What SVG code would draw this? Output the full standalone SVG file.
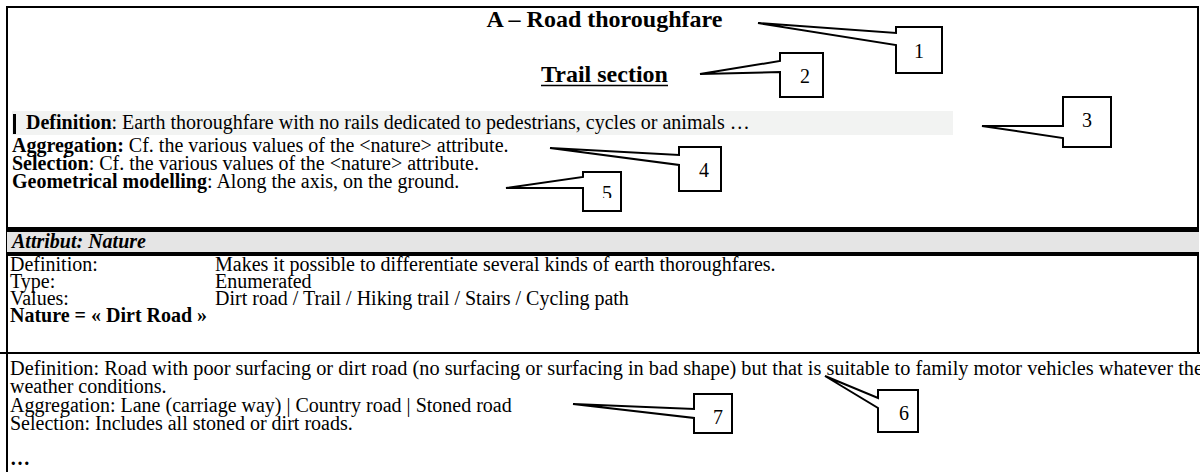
<svg xmlns="http://www.w3.org/2000/svg" width="1200" height="472" viewBox="0 0 1200 472">
<style>
text{font-family:"Liberation Serif","Times New Roman",serif;font-size:20px;fill:#000}
.b{font-weight:bold}
.h{font-weight:bold;font-size:24px}
.bi{font-weight:bold;font-style:italic}
.call{fill:#fff;stroke:#000;stroke-width:2;stroke-linejoin:miter}
.frame{stroke:#000;stroke-width:2;fill:none}
</style>
<defs>
<clipPath id="clip5"><rect x="584" y="173" width="36" height="25"/></clipPath>
</defs>
<rect width="1200" height="472" fill="#fff"/>
<g id="frame">
<line class="frame" x1="6" y1="7" x2="1199" y2="7"/>
<line class="frame" x1="7" y1="6" x2="7" y2="472"/>
<line class="frame" x1="1198" y1="6" x2="1198" y2="354"/>
<line class="frame" x1="0" y1="353" x2="1200" y2="353"/>
</g>
<g id="header">
<text class="h" x="604.5" y="27" text-anchor="middle">A – Road thoroughfare</text>
<text class="h" x="604.5" y="82" text-anchor="middle">Trail section</text>
<line x1="541" y1="85.5" x2="668" y2="85.5" stroke="#000" stroke-width="1.6"/>
</g>
<g id="description">
<rect x="12" y="111" width="941" height="24" fill="#f2f3f2"/>
<rect x="13" y="114" width="3" height="20" fill="#000"/>
<text x="26" y="129"><tspan class="b">Definition</tspan>: Earth thoroughfare with no rails dedicated to pedestrians, cycles or animals …</text>
<text x="12" y="152"><tspan class="b">Aggregation:</tspan> Cf. the various values of the &lt;nature&gt; attribute.</text>
<text x="12" y="170"><tspan class="b">Selection</tspan>: Cf. the various values of the &lt;nature&gt; attribute.</text>
<text x="12" y="188"><tspan class="b">Geometrical modelling</tspan>: Along the axis, on the ground.</text>
</g>
<g id="attribute-table">
<rect x="7" y="227" width="1192" height="5" fill="#000"/>
<rect x="7" y="232" width="1192" height="20" fill="#e5e5e5"/>
<rect x="7" y="252" width="1192" height="4" fill="#000"/>
<text class="bi" x="12" y="248">Attribut: Nature</text>
<text x="10" y="271">Definition:</text>
<text x="215" y="271">Makes it possible to differentiate several kinds of earth thoroughfares.</text>
<text x="10" y="288">Type:</text>
<text x="215" y="288">Enumerated</text>
<text x="10" y="305">Values:</text>
<text x="215" y="305">Dirt road / Trail / Hiking trail / Stairs / Cycling path</text>
<text class="b" x="10" y="322">Nature = « Dirt Road »</text>
</g>
<g id="dirt-road">
<text x="10" y="375" textLength="1193" lengthAdjust="spacingAndGlyphs">Definition: Road with poor surfacing or dirt road (no surfacing or surfacing in bad shape) but that is suitable to family motor vehicles whatever the</text>
<text x="10" y="393">weather conditions.</text>
<text x="10" y="412">Aggregation: Lane (carriage way) | Country road | Stoned road</text>
<text x="10" y="430">Selection: Includes all stoned or dirt roads.</text>
<text class="b" x="10" y="465">…</text>
</g>
<g id="connectors">
<g id="callout-1"><polygon class="call" points="758,23 896,33 896,27 942,27 942,73 896,73 896,45"/><text x="919" y="58" text-anchor="middle">1</text></g>
<g id="callout-2"><polygon class="call" points="700,74 780,61 780,53 823,53 823,97 780,97 780,72"/><text x="805" y="83" text-anchor="middle">2</text></g>
<g id="callout-3"><polygon class="call" points="982,126 1063,126 1063,97 1111,97 1111,147 1063,147 1063,138"/><text x="1087" y="127" text-anchor="middle">3</text></g>
<g id="callout-4"><polygon class="call" points="550,148 679,155 679,147 721,147 721,191 679,191 679,165"/><text x="704" y="177" text-anchor="middle">4</text></g>
<g id="callout-5"><polygon class="call" points="506,188 583,177 583,172 621,172 621,211 583,211 583,188"/><text x="607" y="200" text-anchor="middle" clip-path="url(#clip5)">5</text></g>
<g id="callout-6"><polygon class="call" points="825,376 878,398 878,390 918,390 918,432 878,432 878,408"/><text x="904" y="420" text-anchor="middle">6</text></g>
<g id="callout-7"><polygon class="call" points="573,404 694,409 694,394 732,394 732,433 694,433 694,418"/><text x="718" y="424" text-anchor="middle">7</text></g>
</g>
</svg>
